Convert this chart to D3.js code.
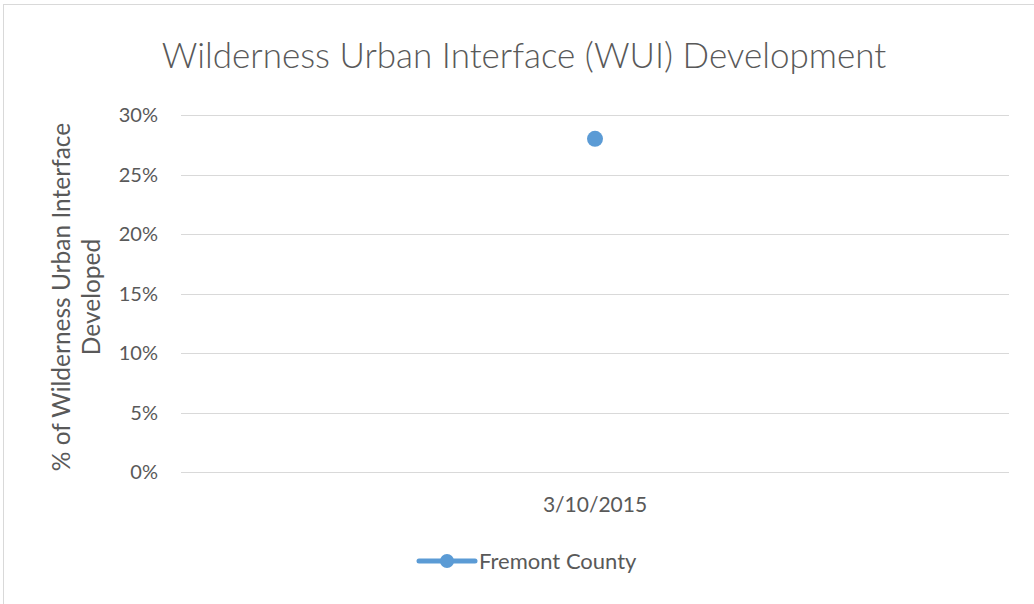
<!DOCTYPE html>
<html>
<head>
<meta charset="utf-8">
<script src="https://cdn.jsdelivr.net/npm/d3@7"></script>
<style>
  body { margin: 0; background: #fff; }
  svg text { font-family: Lato, "Open Sans", sans-serif; fill: #595959; }
</style>
</head>
<body>
<svg id="chart"></svg>
<script>
const categories = ['3/10/2015'];
const seriesName = 'Fremont County';
const values = [0.28];
const yTicks = [0, 0.05, 0.10, 0.15, 0.20, 0.25, 0.30];

const width = 1034, height = 604;
const margin = { top: 115, right: 25, bottom: 132, left: 181 };
const color = '#5B9BD5';

const svg = d3.select('#chart').attr('width', width).attr('height', height);

// chart border (right/bottom edges fall outside the frame)
svg.append('rect')
  .attr('x', 3.5).attr('y', 4.5)
  .attr('width', 1040).attr('height', 610)
  .attr('fill', 'none').attr('stroke', '#d9d9d9');

const x = d3.scaleBand()
  .domain(categories)
  .range([margin.left, width - margin.right]);

const y = d3.scaleLinear()
  .domain([0, 0.30])
  .range([height - margin.bottom, margin.top]);

// gridlines
svg.append('g')
  .selectAll('line')
  .data(yTicks)
  .enter()
  .append('line')
  .attr('x1', margin.left).attr('x2', width - margin.right)
  .attr('y1', d => Math.round(y(d)) + 0.5).attr('y2', d => Math.round(y(d)) + 0.5)
  .attr('stroke', '#d9d9d9')
  .attr('stroke-width', 1);

// y tick labels
svg.append('g')
  .selectAll('text')
  .data(yTicks)
  .enter()
  .append('text')
  .attr('x', 158)
  .attr('y', d => y(d))
  .attr('dy', '0.35em')
  .attr('text-anchor', 'end')
  .style('font-size', '20px')
  .text(d3.format('.0%'));

// x labels
svg.append('g')
  .selectAll('text')
  .data(categories)
  .enter()
  .append('text')
  .attr('x', d => x(d) + x.bandwidth() / 2)
  .attr('y', 512)
  .attr('text-anchor', 'middle')
  .style('font-size', '21px')
  .text(d => d);

// points
svg.append('g')
  .selectAll('circle')
  .data(values)
  .enter()
  .append('circle')
  .attr('cx', (d, i) => x(categories[i]) + x.bandwidth() / 2)
  .attr('cy', d => y(d))
  .attr('r', 8)
  .attr('fill', color);

// title
svg.append('text')
  .attr('x', 524)
  .attr('y', 68)
  .attr('text-anchor', 'middle')
  .style('font-size', '35px')
  .style('font-weight', 300)
  .text('Wilderness Urban Interface (WUI) Development');

// y axis title
const yTitle = svg.append('text')
  .attr('transform', 'translate(70,297) rotate(-90)')
  .attr('text-anchor', 'middle')
  .style('font-size', '24.5px');
yTitle.append('tspan').attr('x', 0).attr('dy', 0).text('% of Wilderness Urban Interface');
yTitle.append('tspan').attr('x', 0).attr('dy', 30).text('Developed');

// legend
const lg = svg.append('g').attr('transform', 'translate(419,561)');
lg.append('line')
  .attr('x1', 0).attr('x2', 56)
  .attr('y1', 0).attr('y2', 0)
  .attr('stroke', color).attr('stroke-width', 5)
  .attr('stroke-linecap', 'round');
lg.append('circle').attr('cx', 28).attr('cy', 0).attr('r', 7).attr('fill', color);
lg.append('text')
  .attr('x', 60).attr('y', 0).attr('dy', '0.35em')
  .style('font-size', '22px')
  .text(seriesName);
</script>
</body>
</html>
